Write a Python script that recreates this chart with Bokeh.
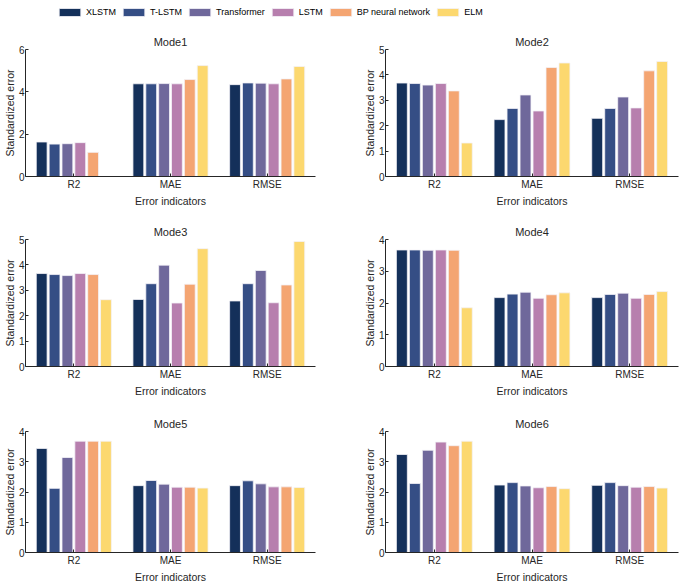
from bokeh.plotting import figure
from bokeh.models import ColumnDataSource, FactorRange, Range1d, Legend, LegendItem
from bokeh.transform import dodge
from bokeh.layouts import column, row
from bokeh.embed import file_html
from bokeh.resources import INLINE

categories = ["R2", "MAE", "RMSE"]
models = ["XLSTM", "T-LSTM", "Transformer", "LSTM", "BP neural network", "ELM"]
colors = ["#14305a", "#354e85", "#6f689b", "#b77fae", "#f4a572", "#fcd86f"]
modes = ["Mode1", "Mode2", "Mode3", "Mode4", "Mode5", "Mode6"]
ymax = [6, 5, 5, 4, 4, 4]

# values[mode][model] = [R2, MAE, RMSE]
mode1 = {
    "XLSTM": [1.63, 4.38, 4.34],
    "T-LSTM": [1.53, 4.38, 4.42],
    "Transformer": [1.55, 4.39, 4.41],
    "LSTM": [1.60, 4.38, 4.38],
    "BP neural network": [1.14, 4.58, 4.61],
    "ELM": [0.0, 5.24, 5.20],
}
mode2 = {
    "XLSTM": [3.68, 2.24, 2.29],
    "T-LSTM": [3.66, 2.68, 2.68],
    "Transformer": [3.60, 3.21, 3.13],
    "LSTM": [3.66, 2.58, 2.70],
    "BP neural network": [3.37, 4.29, 4.16],
    "ELM": [1.32, 4.47, 4.53],
}
mode3 = {
    "XLSTM": [3.66, 2.64, 2.58],
    "T-LSTM": [3.62, 3.26, 3.26],
    "Transformer": [3.58, 3.99, 3.78],
    "LSTM": [3.66, 2.50, 2.51],
    "BP neural network": [3.62, 3.24, 3.21],
    "ELM": [2.63, 4.64, 4.92],
}
mode4 = {
    "XLSTM": [3.67, 2.17, 2.17],
    "T-LSTM": [3.67, 2.28, 2.27],
    "Transformer": [3.66, 2.34, 2.31],
    "LSTM": [3.67, 2.15, 2.15],
    "BP neural network": [3.66, 2.26, 2.27],
    "ELM": [1.85, 2.32, 2.36],
}
mode5 = {
    "XLSTM": [3.44, 2.21, 2.21],
    "T-LSTM": [2.12, 2.38, 2.37],
    "Transformer": [3.14, 2.26, 2.27],
    "LSTM": [3.68, 2.16, 2.17],
    "BP neural network": [3.68, 2.16, 2.17],
    "ELM": [3.68, 2.13, 2.15],
}
mode6 = {
    "XLSTM": [3.24, 2.23, 2.22],
    "T-LSTM": [2.28, 2.31, 2.31],
    "Transformer": [3.38, 2.20, 2.21],
    "LSTM": [3.65, 2.14, 2.16],
    "BP neural network": [3.53, 2.18, 2.18],
    "ELM": [3.68, 2.11, 2.13],
}
all_modes = [mode1, mode2, mode3, mode4, mode5, mode6]

FONT = "Liberation Sans"
AX = "#262626"
pitch = 0.133
bar_w = 0.112

row_heights = [190, 192, 181]
row_bottoms = [36, 38, 29]


def make_fig(idx):
    left = idx % 2 == 0
    r = idx // 2
    data = all_modes[idx]
    src = dict(cat=categories)
    for i, m in enumerate(models):
        src["m%d" % i] = data[m]
    source = ColumnDataSource(src)
    p = figure(
        x_range=FactorRange(*categories, range_padding=0),
        y_range=Range1d(0, ymax[idx]),
        width=350 if left else 330,
        height=row_heights[r],
        output_backend="svg",
        toolbar_location=None,
        min_border_left=0 if left else 35,
        min_border_right=35 if left else 2,
        min_border_top=27,
        min_border_bottom=row_bottoms[r],
        title=modes[idx],
    )
    for i, m in enumerate(models):
        off = (i - 2.5) * pitch
        p.vbar(x=dodge("cat", off, range=p.x_range), top="m%d" % i, width=bar_w,
               source=source, fill_color=colors[i], line_color="#f4f2f8", line_width=0.8)
    p.title.align = "center"
    p.title.text_font = FONT
    p.title.text_font_size = "11px"
    p.title.text_font_style = "normal"
    p.title.text_color = "#262626"
    p.title.offset = 0
    p.title.standoff = 4
    p.outline_line_color = None
    p.xgrid.grid_line_color = None
    p.ygrid.grid_line_color = None
    p.yaxis.ticker = list(range(0, ymax[idx] + 1, 1 if ymax[idx] < 6 else 2))
    for ax in (p.xaxis[0], p.yaxis[0]):
        ax.axis_line_color = AX
        ax.major_tick_line_color = AX
        ax.major_tick_in = 3
        ax.major_tick_out = 0
        ax.minor_tick_line_color = None
        ax.major_label_text_font = FONT
        ax.major_label_text_font_size = "10px"
        ax.major_label_text_color = AX
        ax.axis_label_text_font = FONT
        ax.axis_label_text_font_size = "10.5px"
        ax.axis_label_text_font_style = "normal"
        ax.axis_label_text_color = AX
        ax.major_label_standoff = 2
        ax.axis_label_standoff = 2
    p.yaxis.major_label_standoff = 1
    p.yaxis.axis_label_standoff = 0
    p.yaxis.axis_label = "Standardized error"
    p.xaxis.axis_label = "Error indicators"
    return p


figs = [make_fig(i) for i in range(6)]

# legend figure
lg = figure(width=680, height=22, output_backend="svg", toolbar_location=None,
            x_range=Range1d(0, 1), y_range=Range1d(0, 1), min_border=0)
lg.axis.visible = False
lg.xgrid.visible = False
lg.ygrid.visible = False
lg.outline_line_color = None
items = []
for i, m in enumerate(models):
    rr = lg.vbar(x=[-5], top=[-5], width=0.1, fill_color=colors[i], line_color="#f4f2f8", line_width=0.8)
    items.append(LegendItem(label=m, renderers=[rr]))
legend = Legend(items=items, orientation="horizontal", location=(56, 5),
                glyph_width=27, glyph_height=10, label_text_font=FONT,
                label_text_font_size="9px", label_text_color="#000000",
                label_height=10,
                spacing=4, label_standoff=3, border_line_color=None,
                background_fill_alpha=0, padding=0, margin=0)
lg.add_layout(legend)

layout = column(lg, row(figs[0], figs[1]), row(figs[2], figs[3]), row(figs[4], figs[5]), spacing=0)

open("out.html", "w").write(file_html(layout, INLINE))
